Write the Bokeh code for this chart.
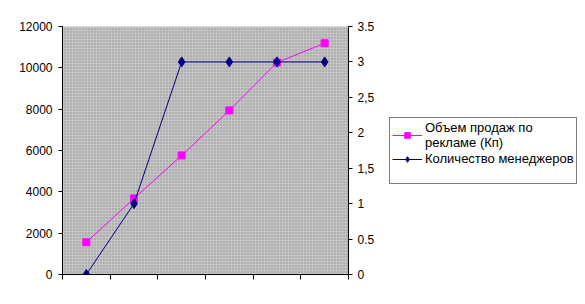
from bokeh.plotting import figure
from bokeh.layouts import row
from bokeh.models import (Range1d, LinearAxis, FixedTicker, Legend, LegendItem,
                          BoxAnnotation, CustomJSTickFormatter)
from bokeh.embed import file_html
from bokeh.resources import INLINE

categories = ["1", "2", "3", "4", "5", "6"]
sales = [1560, 3680, 5760, 7940, 10260, 11190]
managers = [0, 1, 3, 3, 3, 3]
left_ticks = [0, 2000, 4000, 6000, 8000, 10000, 12000]
right_ticks = [0, 0.5, 1, 1.5, 2, 2.5, 3, 3.5]
right_labels = ["0", "0.5", "1", "1,5", "2", "2,5", "3", "3.5"]
sales_label = "Объем продаж по\nрекламе (Кп)"
managers_label = "Количество менеджеров"

xs = [i + 0.5 for i in range(len(categories))]

FONT = "Liberation Sans"
MAGENTA = "#ff00ff"
NAVY = "#000080"

p = figure(width=380, height=304, output_backend="svg", toolbar_location=None,
           x_range=Range1d(0, len(categories)), y_range=Range1d(0, 12000),
           min_border_left=62, min_border_right=32, min_border_top=26,
           min_border_bottom=30)
p.background_fill_color = "#c4c4c4"
p.border_fill_color = "white"
p.outline_line_color = None
p.xgrid.visible = False
p.ygrid.visible = False

p.add_layout(BoxAnnotation(fill_alpha=0, line_alpha=0, hatch_pattern="dot",
                           hatch_color="#8c8c8c", hatch_scale=3, hatch_weight=1,
                           level="underlay"))

p.extra_y_ranges = {"right": Range1d(0, 3.5)}

for ax in [p.xaxis[0], p.yaxis[0]]:
    ax.axis_line_color = "black"
    ax.major_tick_line_color = "black"
    ax.minor_tick_line_color = None
    ax.major_tick_in = 0
    ax.major_tick_out = 4
    ax.major_label_text_font = FONT
    ax.major_label_text_font_size = "12px"
    ax.major_label_text_color = "black"

p.xaxis.ticker = FixedTicker(ticks=list(range(len(categories) + 1)))
p.xaxis.formatter = CustomJSTickFormatter(code="return ''")
p.xaxis.major_tick_out = 5
p.yaxis.ticker = FixedTicker(ticks=left_ticks)
p.yaxis.major_label_standoff = 6

ry = LinearAxis(y_range_name="right", ticker=FixedTicker(ticks=right_ticks))
ry.major_label_overrides = {t: l for t, l in zip(right_ticks, right_labels)}
ry.axis_line_color = "black"
ry.major_tick_line_color = "black"
ry.minor_tick_line_color = None
ry.major_tick_in = 0
ry.major_tick_out = 4
ry.major_label_standoff = 5
ry.major_label_text_font = FONT
ry.major_label_text_font_size = "12px"
ry.major_label_text_color = "black"
p.add_layout(ry, "right")

p.line(xs, sales, line_color=MAGENTA, line_width=1)
p.scatter(xs, sales, marker="square", size=7, fill_color=MAGENTA,
          line_color=MAGENTA)
p.line(xs, managers, line_color=NAVY, line_width=1, y_range_name="right")
p.scatter(xs, managers, marker="diamond", size=10, fill_color=NAVY,
          line_color=NAVY, y_range_name="right")

# legend panel: a separate figure to the right whose ranges keep its copy of
# the series out of view, so only the legend shows
q = figure(width=205, height=304, output_backend="svg", toolbar_location=None,
           x_range=Range1d(100, 101), y_range=Range1d(100, 101),
           x_axis_location=None, y_axis_location=None,
           min_border=0)
q.outline_line_color = None
q.background_fill_color = "white"
q.border_fill_color = "white"
q.xgrid.visible = False
q.ygrid.visible = False
ql1 = q.line(xs, sales, line_color=MAGENTA, line_width=1)
qm1 = q.scatter(xs, sales, marker="square", size=7, fill_color=MAGENTA,
                line_color=MAGENTA)
ql2 = q.line(xs, managers, line_color=NAVY, line_width=1)
qm2 = q.scatter(xs, managers, marker="diamond", size=10, fill_color=NAVY,
                line_color=NAVY)

legend = Legend(items=[LegendItem(label=sales_label, renderers=[ql1, qm1]),
                       LegendItem(label=managers_label, renderers=[ql2, qm2]),
                       LegendItem(label=" ", renderers=[])],
                location=(9, 90))
legend.border_line_color = "black"
legend.border_line_width = 1
legend.background_fill_color = "white"
legend.background_fill_alpha = 1
legend.label_text_font = FONT
legend.label_text_font_size = "13px"
legend.label_text_color = "black"
legend.glyph_width = 30
legend.glyph_height = 14
legend.label_height = 13
legend.label_width = 148
legend.label_standoff = 3
legend.padding = 2
legend.spacing = 1
legend.margin = 0
q.add_layout(legend)

layout = row(p, q)
open("out.html", "w").write(file_html(layout, INLINE))
